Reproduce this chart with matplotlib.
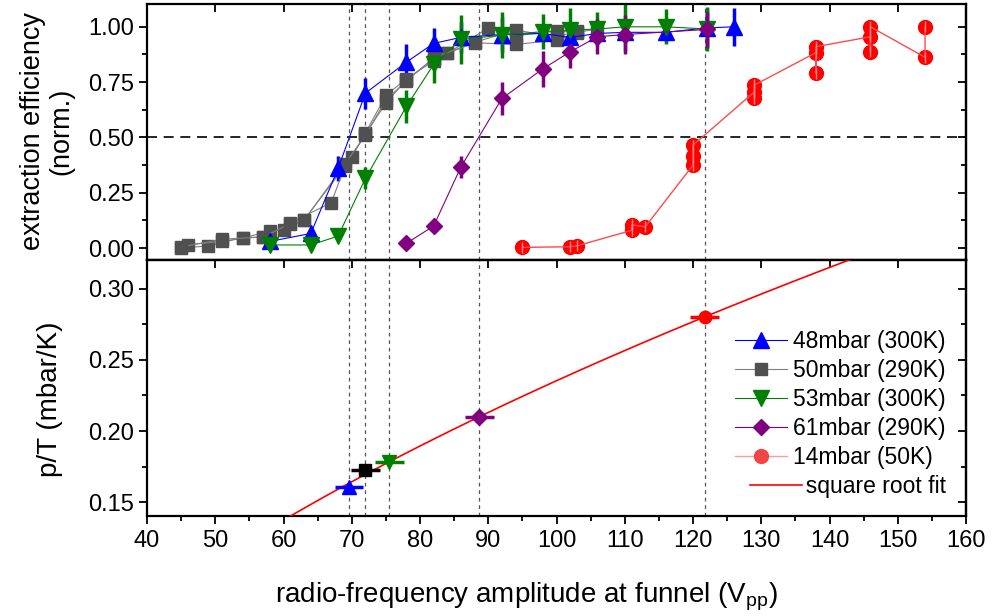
import matplotlib.pyplot as plt
import numpy as np
from matplotlib.lines import Line2D
from matplotlib.legend_handler import HandlerLine2D
from matplotlib.ticker import MultipleLocator, FormatStrFormatter

plt.rcParams['font.family'] = ['Liberation Sans', 'DejaVu Sans']
plt.rcParams['mathtext.default'] = 'regular'

# extraction efficiency vs. funnel rf amplitude (Vpp)
v48 = [58, 64, 68, 72, 78, 82, 86, 92, 98, 102, 106, 110, 116, 122, 126]
eff48 = [0.03, 0.066, 0.36, 0.70, 0.84, 0.925, 0.952, 0.965, 0.97, 0.952, 0.97, 0.975, 0.975, 0.995, 1.0]
err48 = [0.01, 0.01, 0.055, 0.07, 0.08, 0.07, 0.07, 0.08, 0.03, 0.03, 0.03, 0.03, 0.045, 0.09, 0.085]

# 50 mbar was measured in three runs
v50_runs = [
    [45, 49, 54, 57, 61, 67, 69, 72, 75, 78, 82, 84, 88, 94, 100, 103],
    [46, 51, 54, 58, 60, 63, 70, 72, 75, 78, 82, 84, 90, 94, 100, 103, 106],
    [45, 51, 57, 61, 63, 69, 72, 75, 78, 82, 88, 94, 100, 103],
]
eff50_runs = [
    [0.00, 0.01, 0.047, 0.05, 0.114, 0.205, 0.37, 0.515, 0.655, 0.76, 0.855, 0.88, 0.928, 0.92, 0.94, 0.97],
    [0.015, 0.03, 0.045, 0.077, 0.081, 0.127, 0.41, 0.52, 0.69, 0.765, 0.845, 0.88, 0.995, 0.96, 0.98, 0.975, 0.99],
    [0.005, 0.04, 0.05, 0.11, 0.125, 0.38, 0.51, 0.67, 0.755, 0.86, 0.93, 0.985, 0.955, 0.98],
]

v53 = [58, 64, 68, 72, 78, 82, 86, 92, 98, 102, 106, 110, 116, 122]
eff53 = [0.014, 0.014, 0.054, 0.315, 0.64, 0.83, 0.943, 0.962, 0.978, 0.985, 0.99, 1.0, 1.0, 0.99]
err53 = [0.01, 0.01, 0.01, 0.05, 0.075, 0.085, 0.11, 0.105, 0.08, 0.1, 0.075, 0.11, 0.08, 0.1]

v61 = [78, 82, 86, 92, 98, 102, 106, 110, 122]
eff61 = [0.021, 0.10, 0.367, 0.676, 0.81, 0.887, 0.955, 0.965, 0.988]
err61 = [0.01, 0.01, 0.05, 0.075, 0.08, 0.075, 0.08, 0.09, 0.08]

v14 = [95, 102, 103, 111, 111, 113, 120, 120, 120, 129, 129, 129, 138, 138, 138, 146, 146, 146, 154, 154]
eff14 = [0.003, 0.006, 0.01, 0.08, 0.105, 0.096, 0.375, 0.415, 0.465, 0.706, 0.676, 0.737,
         0.883, 0.79, 0.91, 0.955, 0.887, 1.0, 0.862, 1.0]

# amplitude at 50 % extraction and the corresponding p/T
v_half = [69.6, 72.0, 75.5, 88.7, 121.7]
pT_half = [0.161, 0.1726, 0.178, 0.210, 0.280]
v_half_err = 2.1

labels = ['48mbar (300K)', '50mbar (290K)', '53mbar (300K)', '61mbar (290K)', '14mbar (50K)']


class ShiftedLine(HandlerLine2D):
    # legend line moved a bit to the right
    def create_artists(self, legend, orig_handle, xdescent, ydescent, width, height, fontsize, trans):
        artists = super().create_artists(legend, orig_handle, xdescent, ydescent,
                                         width, height, fontsize, trans)
        for art in artists:
            art.set_xdata(np.asarray(art.get_xdata()) + 11)
        return artists


fig = plt.figure(figsize=(9.92, 6.16), dpi=100)
ax1 = fig.add_axes([0.1482, 0.5779, 0.8256, 0.4156])
ax2 = fig.add_axes([0.1482, 0.1628, 0.8256, 0.4151])

# top panel
for xs, ys in zip(v50_runs, eff50_runs):
    ax1.errorbar(xs, ys, yerr=0.012, fmt='-', marker='s', ms=9, color='#808080', lw=0.8,
                 mfc='#505050', mec='#505050', ecolor='#505050', elinewidth=2, capsize=0)
ax1.errorbar(v48, eff48, yerr=err48, fmt='-^', ms=11, color='#0000ff', lw=0.8,
             elinewidth=2.5, capsize=0)
ax1.errorbar(v53, eff53, yerr=err53, fmt='-v', ms=11, color='#008000', lw=0.8,
             elinewidth=2.5, capsize=0)
ax1.errorbar(v61, eff61, yerr=err61, fmt='-D', ms=8.5, color='#800080', lw=0.8,
             elinewidth=2.5, capsize=0)
ax1.plot(v14, eff14, '-', color='#ff4a4a', lw=1.0, zorder=2)
ax1.errorbar(v14, eff14, yerr=0.025, fmt='o', ms=10, color='#ff0000', ecolor='#ff8a8a',
             elinewidth=1, capsize=0, barsabove=True)

ax1.axhline(0.5, color='black', lw=1.2, ls=(0, (6, 4)), zorder=1)

# bottom panel
ax2.errorbar(v_half[0], pT_half[0], xerr=v_half_err, fmt='^', ms=10, color='#0000ff', elinewidth=2.5, capsize=0, zorder=4)
ax2.errorbar(v_half[1], pT_half[1], xerr=v_half_err, fmt='s', ms=8, color='black', elinewidth=2.5, capsize=0, zorder=4)
ax2.errorbar(v_half[2], pT_half[2], xerr=v_half_err, fmt='v', ms=10, color='#008000', elinewidth=2.5, capsize=0, zorder=4)
ax2.errorbar(v_half[3], pT_half[3], xerr=v_half_err, fmt='D', ms=8, color='#800080', elinewidth=2.5, capsize=0, zorder=4)
ax2.errorbar(v_half[4], pT_half[4], xerr=v_half_err, fmt='o', ms=9, color='#ff0000', elinewidth=2.5, capsize=0, zorder=4)

# p/T = a*sqrt(V) + b
a, b = np.polyfit(np.sqrt(v_half), pT_half, 1)
vfit = np.linspace(40, 160, 300)
ax2.plot(vfit, a * np.sqrt(vfit) + b, color='#ff0000', lw=1.2, zorder=3)

for v in v_half:
    for ax in (ax1, ax2):
        ax.axvline(v, color='#555555', lw=0.9, ls=(0, (3, 3)), zorder=1)

ax1.set_ylim(-0.054, 1.103)
ax2.set_ylim(0.1406, 0.320)

for ax in (ax1, ax2):
    ax.set_xlim(40, 160)
    for s in ax.spines.values():
        s.set_linewidth(1.6)
    ax.tick_params(axis='both', which='major', length=6, width=1.3, labelsize=17)
    ax.tick_params(axis='both', which='minor', length=3.5, width=1.3)
    ax.tick_params(axis='y', which='both', direction='out', left=True, right=False)

ax1.xaxis.set_major_locator(MultipleLocator(10))
ax1.tick_params(axis='x', which='both', direction='in', bottom=False, top=True,
                labelbottom=False, labeltop=False)
ax1.yaxis.set_major_locator(MultipleLocator(0.25))
ax1.yaxis.set_minor_locator(MultipleLocator(0.125))
ax1.yaxis.set_major_formatter(FormatStrFormatter('%.2f'))

ax2.xaxis.set_major_locator(MultipleLocator(10))
ax2.xaxis.set_minor_locator(MultipleLocator(5))
ax2.tick_params(axis='x', which='both', direction='out', top=False, pad=4)
ax2.yaxis.set_major_locator(MultipleLocator(0.05))
ax2.yaxis.set_minor_locator(MultipleLocator(0.025))
ax2.yaxis.set_major_formatter(FormatStrFormatter('%.2f'))

# mirrored ticks pointing inwards
for ax, step in ((ax1, 0.125), (ax2, 0.025)):
    sec = ax.secondary_yaxis('right')
    sec.yaxis.set_major_locator(MultipleLocator(step * 2))
    sec.yaxis.set_minor_locator(MultipleLocator(step))
    sec.tick_params(which='major', direction='in', length=6, width=1.3, labelright=False)
    sec.tick_params(which='minor', direction='in', length=3.5, width=1.3)
    sec.spines['right'].set_linewidth(1.6)
sec = ax2.secondary_xaxis('top')
sec.xaxis.set_major_locator(MultipleLocator(10))
sec.tick_params(which='major', direction='in', length=6, width=1.3, labeltop=False)
sec.spines['top'].set_linewidth(1.6)

fig.text(47 / 992, 1 - 131 / 616, 'extraction efficiency\n(norm.)', rotation=90,
         ha='center', va='center', multialignment='center', fontsize=19.5, linespacing=1.1)
fig.text(50 / 992, 1 - 399 / 616, 'p/T (mbar/K)', rotation=90, ha='center', va='center', fontsize=20)
fig.text(526 / 992, 1 - 597 / 616, 'radio-frequency amplitude at funnel (V$_{pp}$)',
         ha='center', va='center', fontsize=20)

handles = [
    Line2D([], [], color='#0000ff', lw=0.8, marker='^', ms=11),
    Line2D([], [], color='#808080', lw=0.8, marker='s', ms=9, mfc='#505050', mec='#505050'),
    Line2D([], [], color='#008000', lw=0.8, marker='v', ms=11),
    Line2D([], [], color='#800080', lw=0.8, marker='D', ms=8.5),
    Line2D([], [], color='#ff9a9a', lw=1.0, marker='o', ms=10, mfc='#f24545', mec='#f24545'),
]
fit_handle = Line2D([], [], color='#ff0000', lw=1.2)
ax2.legend(handles + [fit_handle], labels + ['  square root fit'], loc='center left',
           bbox_to_anchor=(0.718, 0.398), frameon=False, fontsize=16.5, handlelength=2.25,
           handletextpad=0.3, labelspacing=0.26, borderpad=0, borderaxespad=0,
           handler_map={fit_handle: ShiftedLine()})

fig.savefig('out.png', dpi=100)
